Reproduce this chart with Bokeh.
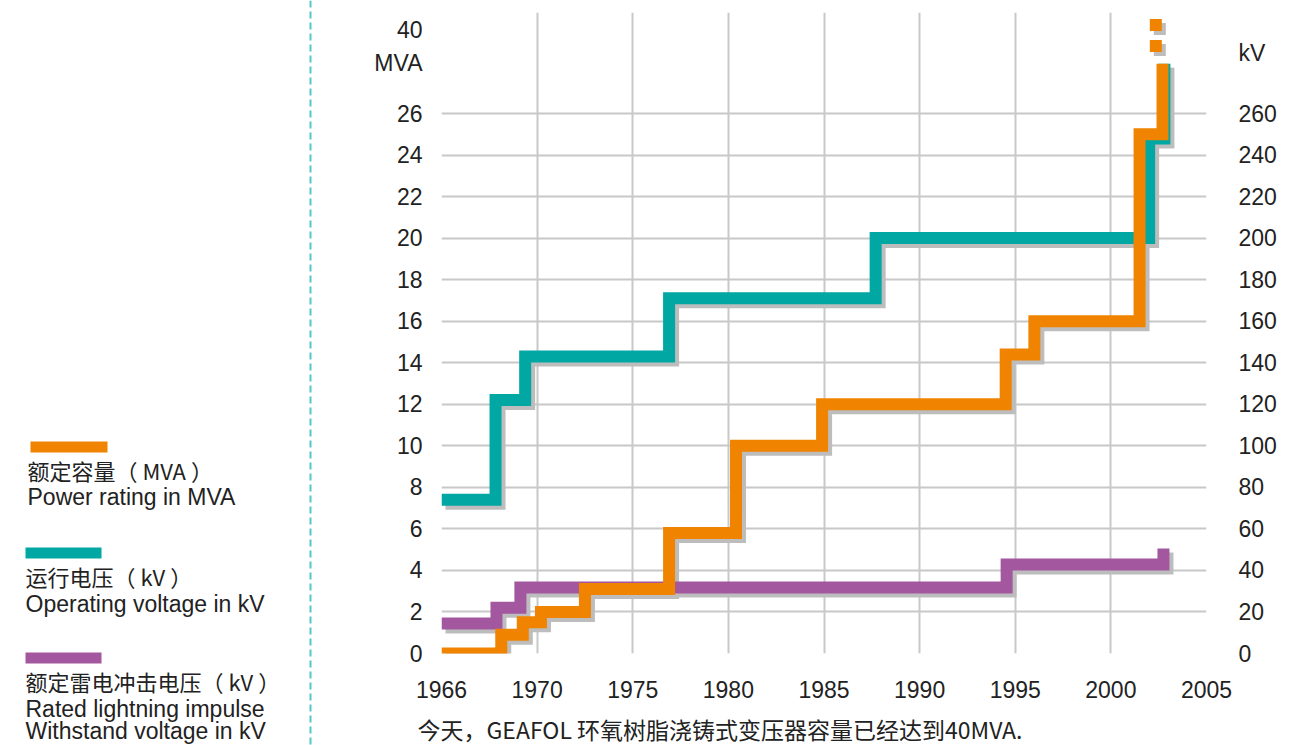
from bokeh.plotting import figure
from bokeh.layouts import row, column
from bokeh.models import Range1d, LinearAxis, FixedTicker
from bokeh.embed import file_html
from bokeh.resources import INLINE
from bokeh.core.properties import value

# ---------------- data ----------------
year_ticks = [1966, 1970, 1975, 1980, 1985, 1990, 1995, 2000, 2005]
mva_ticks = list(range(0, 27, 2))
kv_ticks = list(range(0, 261, 20))

# Power rating (MVA) - step change years and values
orange_years = [1966, 1968.5, 1969.4, 1970.2, 1972.5, 1976.9, 1980.4, 1984.9, 1994.5, 1996.0, 2001.5, 2002.7]
orange_mva = [0, 0.9, 1.5, 2.0, 3.1, 5.8, 10, 12, 14.4, 16, 25, 28.4]
# continuation dots towards 40 MVA
orange_dot_years = [2002.35, 2002.35]
orange_dot_mva = [29.25, 30.26]

# Operating voltage (kV)
teal_years = [1966, 1968.26, 1969.5, 1976.9, 1987.7, 2002.0, 2002.8]
teal_kv = [74, 122, 143, 171, 200, 248, 284]

# Rated lightning impulse withstand voltage (kV)
purple_years = [1966, 1968.3, 1969.3, 1994.55, 2002.75]
purple_kv = [14.4, 22, 31.8, 42.8, 50.5]

legend_cn = ["额定容量（ MVA ）", "运行电压（ kV ）", "额定雷电冲击电压（ kV ）"]
legend_en = [["Power rating in MVA"], ["Operating voltage in kV"],
             ["Rated lightning impulse", "Withstand voltage in kV"]]
caption = "今天，GEAFOL 环氧树脂浇铸式变压器容量已经达到40MVA."

ORANGE = "#F08400"
TEAL = "#00A7A3"
PURPLE = "#A3579F"
SHADOW = "#BDBDBD"
GRID = "#C8C8C8"
TXT = "#222222"
CJK = "Noto Sans CJK SC"
LAT = "Liberation Sans"

# ---------------- layout geometry (page px) ----------------
PW, PH = 1312, 745
W1 = 330                       # left legend panel
W2 = PW - W1
CAP_H = 38                     # caption strip under the chart
H2 = PH - CAP_H
F_LEFT, F_RIGHT, F_TOP, F_BOT = 441, 1206, 12, 653
XMAX = 8.0
PX_X = (F_RIGHT - F_LEFT) / XMAX
PX_Y = 540 / 26.0
YMAX = (F_BOT - F_TOP) / PX_Y


def pos(year):
    # axis labels are evenly spaced although 1966-1970 spans 4 years
    if year <= 1970:
        return (year - 1966) / 4.0
    return 1 + (year - 1970) / 5.0


def steps(xs, vs):
    px = [pos(xs[0])]
    py = [vs[0]]
    for i in range(1, len(xs)):
        px += [pos(xs[i]), pos(xs[i])]
        py += [vs[i - 1], vs[i]]
    return px, py


def blank(w, h):
    f = figure(width=w, height=h, output_backend="svg", toolbar_location=None,
               x_range=Range1d(0, w), y_range=Range1d(h, 0),
               x_axis_type=None, y_axis_type=None,
               min_border_left=0, min_border_right=0, min_border_top=0, min_border_bottom=0)
    f.frame_align = False
    f.outline_line_color = None
    f.background_fill_color = "white"
    f.border_fill_color = "white"
    return f


# ---------------- legend panel ----------------
lg = blank(W1, PH)
lg.quad(left=[30, 25, 25], right=[107, 101, 101], top=[441, 547, 652], bottom=[452, 558, 663],
        fill_color=[ORANGE, TEAL, PURPLE], line_color=None)
cn_y = [469, 575, 680]
cn_x = [27, 25, 25]
lg.text(x=cn_x, y=cn_y, text=legend_cn, text_font=value(CJK), text_font_size="22px",
        text_color=TXT, text_baseline="alphabetic")
en_x, en_y, en_t = [], [], []
for i, lines in enumerate(legend_en):
    for j, t in enumerate(lines):
        en_x.append(cn_x[i])
        en_y.append([496, 603, 708][i] + 22 * j)
        en_t.append(t)
lg.text(x=en_x, y=en_y, text=en_t, text_font=value(LAT), text_font_size="23px",
        text_color=TXT, text_baseline="alphabetic")
lg.segment(x0=[310], y0=[0], x1=[310], y1=[PH], line_color="#55C6CB", line_width=2, line_dash="7 4")

# ---------------- main chart ----------------
p = figure(width=W2, height=H2, output_backend="svg", toolbar_location=None,
           x_range=Range1d(0, XMAX), y_range=Range1d(0, YMAX),
           min_border_left=F_LEFT - W1, min_border_right=PW - F_RIGHT,
           min_border_top=F_TOP, min_border_bottom=H2 - F_BOT)
p.frame_align = False
p.extra_y_ranges = {"kv": Range1d(0, YMAX * 10)}
p.outline_line_color = None
p.background_fill_color = "white"
p.border_fill_color = "white"

# unit captions placed above the top tick labels
mva_unit_pos = {30.02: "40", 28.43: "MVA"}
kv_unit_pos = {288.9: "kV"}

xt = [pos(y) for y in year_ticks]
p.xaxis.ticker = FixedTicker(ticks=xt)
p.xaxis.major_label_overrides = {int(round(t)): str(y) for t, y in zip(xt, year_ticks)}
p.yaxis.ticker = FixedTicker(ticks=mva_ticks + list(mva_unit_pos.keys()))
p.yaxis.major_label_overrides = dict(mva_unit_pos)

kv_axis = LinearAxis(y_range_name="kv", ticker=FixedTicker(ticks=kv_ticks + list(kv_unit_pos.keys())))
kv_axis.major_label_overrides = dict(kv_unit_pos)
p.add_layout(kv_axis, "right")

for ax in [p.xaxis[0], p.yaxis[0], kv_axis]:
    ax.axis_line_color = None
    ax.major_tick_line_color = None
    ax.minor_tick_line_color = None
    ax.major_tick_in = 0
    ax.major_tick_out = 0
    ax.minor_tick_in = 0
    ax.minor_tick_out = 0
    ax.major_label_text_font = LAT
    ax.major_label_text_font_size = "23px"
    ax.major_label_text_color = TXT
p.yaxis[0].major_label_standoff = 19
kv_axis.major_label_standoff = 32
p.xaxis[0].major_label_standoff = 27

p.xgrid.ticker = FixedTicker(ticks=xt)
p.ygrid.ticker = FixedTicker(ticks=mva_ticks)
for g in [p.xgrid[0], p.ygrid[0]]:
    g.grid_line_color = GRID
    g.grid_line_width = 2

# series
dx = 4 / PX_X
dy = 4 / PX_Y

ox, oy = steps(orange_years, orange_mva)
tx, ty = steps(teal_years, teal_kv)
qx, qy = steps(purple_years, purple_kv)
dxs = [pos(y) for y in orange_dot_years]

common = dict(line_width=12, line_join="miter", line_cap="butt")

# shadows
p.line([x + dx for x in qx], [v - dy * 10 for v in qy], y_range_name="kv", line_color=SHADOW, **common)
p.line([x + dx for x in tx], [v - dy * 10 for v in ty], y_range_name="kv", line_color=SHADOW, **common)
p.line([x + dx for x in ox], [v - dy for v in oy], line_color=SHADOW, **common)
p.scatter([x + dx for x in dxs], [v - dy for v in orange_dot_mva], marker="square", size=12,
          fill_color=SHADOW, line_color=None)

# lines
p.line(qx, qy, y_range_name="kv", line_color=PURPLE, **common)
p.line(tx, ty, y_range_name="kv", line_color=TEAL, **common)
p.line(ox, oy, line_color=ORANGE, **common)
p.scatter(dxs, orange_dot_mva, marker="square", size=12, fill_color=ORANGE, line_color=None)

# ---------------- caption strip ----------------
cap = blank(W2, CAP_H)
cap.text(x=[417 - W1], y=[21], text=[caption], text_font=value(CJK), text_font_size="23px",
         text_color=TXT, text_baseline="middle")

layout = row(lg, column(p, cap))
open("out.html", "w").write(file_html(layout, INLINE))
